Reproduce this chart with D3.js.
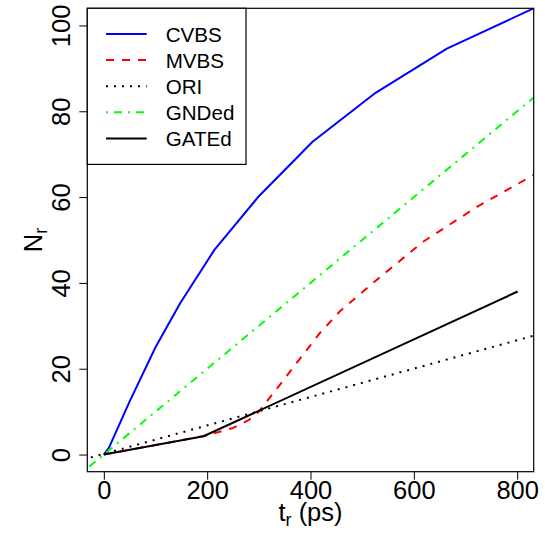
<!DOCTYPE html>
<html>
<head>
<meta charset="utf-8">
<script src="https://cdn.jsdelivr.net/npm/d3@7"></script>
<style>
  html, body { margin: 0; padding: 0; background: #fff; }
  svg { display: block; font-family: "Liberation Sans", Arial, Helvetica, sans-serif; }
</style>
</head>
<body>
<svg id="chart" width="545" height="533"></svg>
<script>
// Rise time t_r (ps) and count N_r for each scheme
const cvbsT  = [0, 10, 50, 100, 148, 214, 300, 404, 526, 664, 850];
const cvbsN  = [0, 1.6, 12.4, 25.0, 35.3, 47.7, 60.2, 72.9, 84.3, 94.6, 105];

const mvbsT  = [0, 100, 200, 250, 280, 300, 320, 341, 373, 418, 457, 528, 618, 722, 850];
const mvbsN  = [0, 2.2, 4.5, 6.2, 8.0, 10.0, 13.1, 16.3, 21.3, 28.3, 33.4, 40.7, 49.6, 57.7, 66.4];

const oriT   = [-40, 850];
const oriN   = [-1.16, 28.3];

const gndT   = [-40, 850];
const gndN   = [-4, 85];

const gateT  = [0, 193, 801];
const gateN  = [0, 4.26, 38];

const xTicks = [0, 200, 400, 600, 800];
const yTicks = [0, 20, 40, 60, 80, 100];

const seriesNames = ["CVBS", "MVBS", "ORI", "GNDed", "GATEd"];

// styling per series
const styles = {
  CVBS:  { color: "#0000ff", dash: null },
  MVBS:  { color: "#ff0000", dash: "8,8" },
  ORI:   { color: "#000000", dash: "2,6" },
  GNDed: { color: "#00ff00", dash: "2,6,8,6" },
  GATEd: { color: "#000000", dash: null }
};

const series = [
  { name: "CVBS",  t: cvbsT, n: cvbsN },
  { name: "MVBS",  t: mvbsT, n: mvbsN },
  { name: "ORI",   t: oriT,  n: oriN },
  { name: "GNDed", t: gndT,  n: gndN },
  { name: "GATEd", t: gateT, n: gateN }
];

const svg = d3.select("#chart");
const plot = { left: 87.3, right: 533.7, top: 8.3, bottom: 471.7 };

const x = d3.scaleLinear().domain([-32, 832]).range([plot.left, plot.right]);
const y = d3.scaleLinear().domain([-4, 104]).range([plot.bottom, plot.top]);

svg.append("defs").append("clipPath").attr("id", "plotClip")
  .append("rect")
  .attr("x", plot.left).attr("y", plot.top)
  .attr("width", plot.right - plot.left).attr("height", plot.bottom - plot.top);

const line = d3.line().x(d => x(d[0])).y(d => y(d[1]));

const lines = svg.append("g").attr("clip-path", "url(#plotClip)");
series.forEach(s => {
  const st = styles[s.name];
  lines.append("path")
    .datum(s.t.map((t, i) => [t, s.n[i]]))
    .attr("d", line)
    .attr("fill", "none")
    .attr("stroke", st.color)
    .attr("stroke-width", 2)
    .attr("stroke-dasharray", st.dash)
    .attr("stroke-linejoin", "round");
});

// axes
const tickFont = 25.5;
const xAxis = svg.append("g")
  .attr("transform", `translate(0,${plot.bottom})`)
  .call(d3.axisBottom(x).tickValues(xTicks).tickSize(8).tickSizeOuter(0).tickPadding(1.5));
xAxis.select(".domain").remove();
xAxis.selectAll("line").attr("stroke", "#000");
xAxis.selectAll("text").attr("font-size", tickFont).attr("fill", "#000")
  .attr("font-family", "Liberation Sans, Arial, sans-serif");

const yAxis = svg.append("g")
  .attr("transform", `translate(${plot.left},0)`)
  .call(d3.axisLeft(y).tickValues(yTicks).tickSize(8).tickSizeOuter(0));
yAxis.select(".domain").remove();
yAxis.selectAll("line").attr("stroke", "#000");
yAxis.selectAll("text")
  .attr("x", 0).attr("y", 0).attr("dy", null)
  .attr("text-anchor", "middle")
  .attr("transform", "translate(-17.3,0) rotate(-90)")
  .attr("font-size", tickFont).attr("fill", "#000")
  .attr("font-family", "Liberation Sans, Arial, sans-serif");

// plot frame
svg.append("rect")
  .attr("x", plot.left).attr("y", plot.top)
  .attr("width", plot.right - plot.left).attr("height", plot.bottom - plot.top)
  .attr("fill", "none").attr("stroke", "#000").attr("stroke-width", 1.2);

// axis titles
const xt = svg.append("text")
  .attr("x", (plot.left + plot.right) / 2).attr("y", 521)
  .attr("text-anchor", "middle").attr("font-size", tickFont);
xt.append("tspan").text("t");
xt.append("tspan").attr("font-size", 18).attr("dy", 5).text("r");
xt.append("tspan").attr("dy", -5).text(" (ps)");

const yt = svg.append("text")
  .attr("transform", `translate(42,${(plot.top + plot.bottom) / 2}) rotate(-90)`)
  .attr("text-anchor", "middle").attr("font-size", tickFont);
yt.append("tspan").text("N");
yt.append("tspan").attr("font-size", 18).attr("dy", 5).text("r");

// legend
const legend = svg.append("g");
legend.append("rect")
  .attr("x", plot.left).attr("y", plot.top)
  .attr("width", 246 - plot.left).attr("height", 164.4 - plot.top)
  .attr("fill", "#fff").attr("stroke", "#000").attr("stroke-width", 1.2);

seriesNames.forEach((name, i) => {
  const st = styles[name];
  const ry = 34 + i * 26.1;
  legend.append("line")
    .attr("x1", 106).attr("x2", 146.7)
    .attr("y1", ry).attr("y2", ry)
    .attr("stroke", st.color).attr("stroke-width", 2)
    .attr("stroke-dasharray", st.dash);
  legend.append("text")
    .attr("x", 165.7).attr("y", ry + 8)
    .attr("font-size", 20.6).attr("fill", "#000")
    .text(name);
});
</script>
</body>
</html>
